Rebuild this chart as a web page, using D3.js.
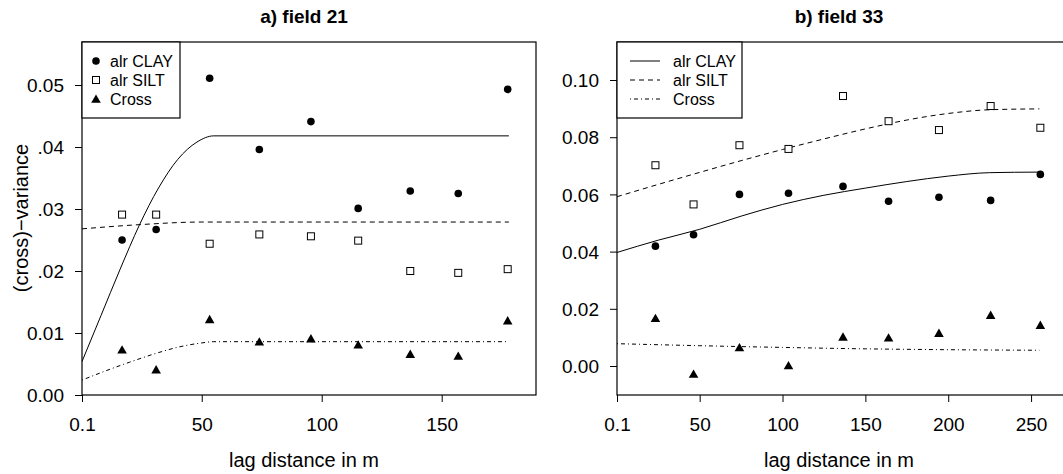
<!DOCTYPE html>
<html>
<head>
<meta charset="utf-8">
<script src="https://cdn.jsdelivr.net/npm/d3@7"></script>
<style>
  body { margin: 0; background: #fff; }
  svg { display: block; font-family: "Liberation Sans", Arial, Helvetica, sans-serif; }
</style>
</head>
<body>
<script>
// Panel titles and legend labels
const panelTitles = ["a) field 21", "b) field 33"];
const seriesNames = ["alr CLAY", "alr SILT", "Cross"];

// Field 21: experimental (cross-)variograms
const lagsA = [16.8, 31.0, 53.3, 74.0, 95.5, 115.2, 136.9, 156.9, 177.5];
const clayA = [0.0250, 0.0267, 0.0511, 0.0396, 0.0441, 0.0301, 0.0329, 0.0325, 0.0493];
const siltA = [0.0291, 0.0291, 0.0244, 0.0259, 0.0256, 0.0249, 0.0200, 0.0197, 0.0203];
const crossA = [0.0073, 0.0041, 0.0122, 0.0086, 0.0091, 0.0081, 0.0066, 0.0063, 0.0120];

// Field 21: fitted model curves
const clayFitLagA = [0.1, 8, 16, 24, 32, 40, 48, 55, 178];
const clayFitA = [0.0054, 0.0128, 0.0203, 0.0274, 0.0334, 0.0380, 0.0408, 0.0418, 0.0418];
const siltFitLagA = [0.1, 25, 50, 60, 178];
const siltFitA = [0.0268, 0.0275, 0.0279, 0.0279, 0.0279];
const crossFitLagA = [0.1, 10, 20, 30, 40, 50, 55, 178];
const crossFitA = [0.0024, 0.0039, 0.0053, 0.0066, 0.0077, 0.0084, 0.0086, 0.0086];

// Field 33: experimental (cross-)variograms
const lagsB = [23.3, 46.3, 74.0, 103.6, 136.5, 164.0, 194.4, 225.6, 255.6];
const clayB = [0.0419, 0.0459, 0.0600, 0.0604, 0.0628, 0.0576, 0.0590, 0.0579, 0.0670];
const siltB = [0.0702, 0.0565, 0.0772, 0.0759, 0.0944, 0.0856, 0.0825, 0.0909, 0.0833];
const crossB = [0.0167, -0.0028, 0.0065, 0.0002, 0.0102, 0.0099, 0.0115, 0.0178, 0.0143];

// Field 33: fitted model curves
const fitLagB = [0.1, 25, 50, 75, 100, 125, 150, 175, 200, 225, 255];
const clayFitB = [0.0397, 0.0440, 0.0478, 0.0524, 0.0565, 0.0597, 0.0622, 0.0645, 0.0664, 0.0676, 0.0678];
const siltFitB = [0.0592, 0.0635, 0.0677, 0.0718, 0.0757, 0.0794, 0.0829, 0.0860, 0.0883, 0.0896, 0.0899];
const crossFitLagB = [0.1, 50, 100, 150, 200, 255];
const crossFitB = [0.0078, 0.0071, 0.0065, 0.0060, 0.0057, 0.0055];

// Tick values and labels
const xTicksA = [0.1, 50, 100, 150];
const xLabelsA = ["0.1", "50", "100", "150"];
const yTicksA = [0, 0.01, 0.02, 0.03, 0.04, 0.05];
const yLabelsA = ["0.00", "0.01", ".02", ".03", ".04", "0.05"];
const xTicksB = [0.1, 50, 100, 150, 200, 250];
const xLabelsB = ["0.1", "50", "100", "150", "200", "250"];
const yTicksB = [0, 0.02, 0.04, 0.06, 0.08, 0.10];
const yLabelsB = ["0.00", "0.02", "0.04", "0.06", "0.08", "0.10"];

const W = 1063, H = 474;
const svg = d3.select("body").append("svg").attr("width", W).attr("height", H);

const plotTop = 42, plotBottom = 395, plotW = 454;
const dashStyles = [null, "5,4", "1,3,4,3"];

function zipPts(xs, ys) { return xs.map((x, i) => [x, ys[i]]); }

function marker(g, type, cx, cy) {
	if (type === 0) {
		g.append("circle").attr("cx", cx).attr("cy", cy).attr("r", 3.8).attr("fill", "#000");
	} else if (type === 1) {
		g.append("rect").attr("x", cx - 3.5).attr("y", cy - 3.5).attr("width", 7).attr("height", 7)
			.attr("fill", "#fff").attr("stroke", "#000").attr("stroke-width", 1);
	} else {
		g.append("path").attr("d", `M${cx},${cy - 4.5}L${cx + 4.8},${cy + 3.8}L${cx - 4.8},${cy + 3.8}Z`)
			.attr("fill", "#000");
	}
}

function drawPanel(cfg) {
	const x = d3.scaleLinear().domain(cfg.xDomain).range([cfg.left, cfg.left + plotW]);
	const y = d3.scaleLinear().domain(cfg.yDomain).range([plotBottom, plotTop]);
	const g = svg.append("g");

	// title
	g.append("text").attr("x", cfg.left + plotW / 2 - 5).attr("y", 23)
		.attr("text-anchor", "middle").attr("font-size", 19).attr("font-weight", "bold")
		.text(cfg.title);

	// axes
	const xAxis = g.append("g").attr("transform", `translate(0,${plotBottom})`)
		.call(d3.axisBottom(x).tickValues(cfg.xTicks).tickFormat((d, i) => cfg.xLabels[i])
			.tickSize(7).tickSizeOuter(0).tickPadding(16));
	const yAxis = g.append("g").attr("transform", `translate(${cfg.left},0)`)
		.call(d3.axisLeft(y).tickValues(cfg.yTicks).tickFormat((d, i) => cfg.yLabels[i])
			.tickSize(7).tickSizeOuter(0).tickPadding(11));
	[xAxis, yAxis].forEach(a => {
		a.select(".domain").remove();
		a.selectAll("text").attr("font-size", 19).attr("fill", "#000")
			.attr("font-family", "'Liberation Sans', Arial, sans-serif");
		a.selectAll("line").attr("stroke", "#000");
	});
	yAxis.selectAll("text").attr("dy", "0.35em");

	// x axis title
	g.append("text").attr("x", cfg.left + plotW / 2 - 5).attr("y", 467)
		.attr("text-anchor", "middle").attr("font-size", 20).text("lag distance in m");

	// fitted curves
	const line = d3.line().x(d => x(d[0])).y(d => y(d[1])).curve(d3.curveMonotoneX);
	cfg.fits.forEach((f, i) => {
		g.append("path").datum(zipPts(f[0], f[1])).attr("d", line)
			.attr("fill", "none").attr("stroke", "#000").attr("stroke-width", 1)
			.attr("stroke-dasharray", dashStyles[i]);
	});

	// points
	cfg.points.forEach((vals, i) => {
		vals.forEach((v, j) => marker(g, i, x(cfg.lags[j]), y(v)));
	});

	// box
	g.append("rect").attr("x", cfg.left).attr("y", plotTop).attr("width", plotW).attr("height", plotBottom - plotTop)
		.attr("fill", "none").attr("stroke", "#000").attr("stroke-width", 1.2);

	// legend
	const lg = g.append("g");
	lg.append("rect").attr("x", cfg.left).attr("y", plotTop).attr("width", cfg.legendW).attr("height", 76)
		.attr("fill", "#fff").attr("stroke", "#000").attr("stroke-width", 1.2);
	seriesNames.forEach((name, i) => {
		const ry = 61 + i * 19;
		if (cfg.legendLines) {
			lg.append("line").attr("x1", cfg.left + 13).attr("x2", cfg.left + 43).attr("y1", ry).attr("y2", ry)
				.attr("stroke", "#000").attr("stroke-width", 1).attr("stroke-dasharray", dashStyles[i]);
			lg.append("text").attr("x", cfg.left + 56).attr("y", ry).attr("dy", "0.35em")
				.attr("font-size", 16).text(name);
		} else {
			marker(lg, i, cfg.left + 14, ry);
			lg.append("text").attr("x", cfg.left + 28).attr("y", ry).attr("dy", "0.35em")
				.attr("font-size", 16).text(name);
		}
	});
}

drawPanel({
	left: 82, title: panelTitles[0],
	xDomain: [0.1, 189.3], yDomain: [0, 0.05694],
	xTicks: xTicksA, xLabels: xLabelsA, yTicks: yTicksA, yLabels: yLabelsA,
	lags: lagsA, points: [clayA, siltA, crossA],
	fits: [[clayFitLagA, clayFitA], [siltFitLagA, siltFitA], [crossFitLagA, crossFitA]],
	legendW: 98, legendLines: false
});

drawPanel({
	left: 617, title: panelTitles[1],
	xDomain: [0.1, 274.1], yDomain: [-0.01014, 0.11329],
	xTicks: xTicksB, xLabels: xLabelsB, yTicks: yTicksB, yLabels: yLabelsB,
	lags: lagsB, points: [clayB, siltB, crossB],
	fits: [[fitLagB, clayFitB], [fitLagB, siltFitB], [crossFitLagB, crossFitB]],
	legendW: 125, legendLines: true
});

// y axis title (left panel only)
svg.append("text").attr("transform", "translate(28,218) rotate(-90)")
	.attr("text-anchor", "middle").attr("font-size", 20).text("(cross)\u2212variance");
</script>
</body>
</html>
